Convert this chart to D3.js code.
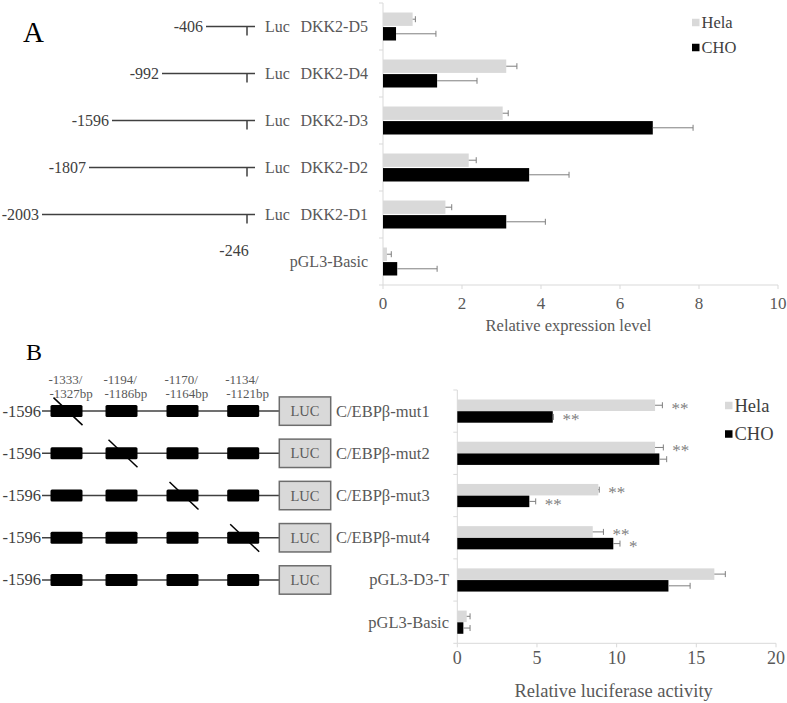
<!DOCTYPE html>
<html>
<head>
<meta charset="utf-8">
<script src="https://cdn.jsdelivr.net/npm/d3@7"></script>
<style>
  body { margin: 0; background: #fff; }
  svg text { font-family: "Liberation Serif", "Times New Roman", serif; }
</style>
</head>
<body>
<div id="chart"></div>
<script>
// panel A data (top to bottom)
var aCategories = ["DKK2-D5", "DKK2-D4", "DKK2-D3", "DKK2-D2", "DKK2-D1", "pGL3-Basic"];
var aStarts = [-406, -992, -1596, -1807, -2003, null];
var aHela = [0.75, 3.12, 3.03, 2.17, 1.58, 0.10];
var aHelaErr = [0.07, 0.27, 0.14, 0.19, 0.16, 0.11];
var aCHO = [0.33, 1.37, 6.83, 3.70, 3.12, 0.36];
var aCHOErr = [1.01, 1.01, 1.02, 1.01, 0.99, 1.01];
var aTicks = [0, 2, 4, 6, 8, 10];

// panel B data (top to bottom)
var bCategories = ["C/EBPβ-mut1", "C/EBPβ-mut2", "C/EBPβ-mut3", "C/EBPβ-mut4", "pGL3-D3-T", "pGL3-Basic"];
var bHela = [12.41, 12.41, 8.85, 8.50, 16.13, 0.59];
var bHelaErr = [0.46, 0.52, 0.06, 0.67, 0.69, 0.21];
var bCHO = [5.99, 12.68, 4.52, 9.79, 13.25, 0.38];
var bCHOErr = [0.04, 0.46, 0.40, 0.42, 1.36, 0.42];
var bHelaSig = ["**", "**", "**", "**", "", ""];
var bCHOSig = ["**", "", "**", "*", "", ""];
var bTicks = [0, 5, 10, 15, 20];
var bSiteTop = ["-1333/", "-1194/", "-1170/", "-1134/"];
var bSiteBottom = ["-1327bp", "-1186bp", "-1164bp", "-1121bp"];
var bMutated = [0, 1, 2, 3, null, null]; // which site is knocked out per row
var bHasConstruct = [true, true, true, true, true, false];

var series = ["Hela", "CHO"];
var colors = {Hela: "#d9d9d9", CHO: "#000000"};
var axisColor = "#d9d9d9";
var textColor = "#595959";
var darkText = "#404040";
var errColor = "#7f7f7f";

var svg = d3.select("#chart").append("svg")
  .attr("width", 787).attr("height", 703);
svg.append("rect").attr("width", 787).attr("height", 703).attr("fill", "#fff");

// generic horizontal grouped bar chart with error bars
function barChart(opts) {
  var g = svg.append("g");
  var x = d3.scaleLinear().domain(opts.domain).range([opts.left, opts.right]);
  var y = d3.scaleBand().domain(opts.categories).range([opts.top, opts.bottom]);
  var sub = d3.scaleBand().domain(series).range(opts.barRange).paddingInner(opts.barGap);

  // axes
  g.append("line").attr("x1", x(0)).attr("x2", x(0)).attr("y1", opts.top).attr("y2", opts.bottom)
    .attr("stroke", axisColor);
  g.append("line").attr("x1", x(0)).attr("x2", opts.right).attr("y1", opts.bottom).attr("y2", opts.bottom)
    .attr("stroke", axisColor);
  var bounds = opts.categories.map(function(c) { return y(c); }).concat([opts.bottom]);
  g.selectAll(".ytick").data(bounds).enter().append("line")
    .attr("x1", x(0) - 4).attr("x2", x(0))
    .attr("y1", function(d) { return d; }).attr("y2", function(d) { return d; })
    .attr("stroke", axisColor);
  g.selectAll(".xtick").data(opts.ticks).enter().append("line")
    .attr("x1", function(d) { return x(d); }).attr("x2", function(d) { return x(d); })
    .attr("y1", opts.bottom).attr("y2", opts.bottom + 4)
    .attr("stroke", axisColor);
  g.selectAll(".xlab").data(opts.ticks).enter().append("text")
    .attr("x", function(d) { return x(d); })
    .attr("y", opts.bottom + opts.tickOffset)
    .attr("text-anchor", "middle").attr("dominant-baseline", "central")
    .attr("font-size", opts.tickSize).attr("fill", textColor)
    .text(function(d) { return d; });
  g.append("text")
    .attr("x", (x(opts.domain[0]) + x(opts.domain[1])) / 2 + opts.titleShift)
    .attr("y", opts.bottom + opts.titleOffset)
    .attr("text-anchor", "middle").attr("dominant-baseline", "central")
    .attr("font-size", opts.titleSize).attr("fill", textColor)
    .text(opts.title);

  // bars + error bars
  series.forEach(function(s) {
    var vals = opts.values[s], errs = opts.errors[s];
    var rows = opts.categories.map(function(c, i) { return {cat: c, v: vals[i], e: errs[i], i: i}; });
    g.selectAll(".bar-" + s).data(rows).enter().append("rect")
      .attr("x", x(0))
      .attr("y", function(d) { return y(d.cat) + sub(s); })
      .attr("width", function(d) { return x(d.v) - x(0); })
      .attr("height", sub.bandwidth())
      .attr("fill", colors[s]);
    g.selectAll(".err-" + s).data(rows).enter().append("path")
      .attr("d", function(d) {
        var cy = y(d.cat) + sub(s) + sub.bandwidth() / 2;
        var x1 = x(d.v), x2 = x(d.v + d.e);
        return "M" + x1 + "," + cy + "H" + x2 + "M" + x2 + "," + (cy - 3) + "V" + (cy + 3);
      })
      .attr("fill", "none").attr("stroke", errColor).attr("stroke-width", 1);
    if (opts.sig) {
      g.selectAll(".sig-" + s).data(rows).enter().append("text")
        .attr("x", function(d) { return x(d.v + d.e) + 9; })
        .attr("y", function(d) { return y(d.cat) + sub(s) + sub.bandwidth() / 2 + 3; })
        .attr("dominant-baseline", "central")
        .attr("font-size", 17).attr("fill", errColor)
        .text(function(d) { return opts.sig[s][d.i]; });
    }
  });

  // legend
  var leg = g.selectAll(".legend").data(series).enter().append("g")
    .attr("transform", function(d, i) {
      return "translate(" + opts.legendX + "," + (opts.legendY + i * opts.legendStep) + ")";
    });
  leg.append("rect").attr("x", 0).attr("y", -opts.legendBox / 2)
    .attr("width", opts.legendBox).attr("height", opts.legendBox)
    .attr("fill", function(d) { return colors[d]; });
  leg.append("text").attr("x", opts.legendBox + 2).attr("y", 0)
    .attr("dominant-baseline", "central")
    .attr("font-size", opts.legendSize).attr("fill", darkText)
    .text(function(d) { return d; });

  return {x: x, y: y};
}

// ---------- panel A ----------
var A = barChart({
  categories: aCategories, domain: [0, 10], ticks: aTicks,
  left: 383, right: 778, top: 3, bottom: 285,
  barRange: [9.5, 37.5], barGap: 0.08,
  values: {Hela: aHela, CHO: aCHO}, errors: {Hela: aHelaErr, CHO: aCHOErr},
  tickOffset: 18, tickSize: 17, title: "Relative expression level",
  titleOffset: 40, titleSize: 16.5, titleShift: -12,
  legendX: 692, legendY: 22.5, legendStep: 25, legendBox: 7.5, legendSize: 16.5
});

svg.append("text").attr("x", 23).attr("y", 42).attr("font-size", 29).attr("fill", "#000").text("A");

// promoter deletion constructs
var ay = function(c) { return A.y(c) + A.y.bandwidth() / 2; };
var bp = d3.scaleLinear()
  .domain([-2003, -1807, -1596, -992, -406, -246])
  .range([42, 89, 112, 162, 206, 247]);
var lineEnd = 255;
var rowsA = aCategories.map(function(c, i) { return {cat: c, start: aStarts[i]}; });
var construct = rowsA.filter(function(d) { return d.start !== null; });
svg.selectAll(".aline").data(construct).enter().append("path")
  .attr("d", function(d) {
    var cy = ay(d.cat);
    return "M" + bp(d.start) + "," + cy + "H" + lineEnd +
      "M" + bp(-246) + "," + cy + "V" + (cy + 9);
  })
  .attr("stroke", darkText).attr("stroke-width", 1.5).attr("fill", "none");
svg.selectAll(".astart").data(construct).enter().append("text")
  .attr("x", function(d) { return bp(d.start) - 3; })
  .attr("y", function(d) { return ay(d.cat); })
  .attr("text-anchor", "end").attr("dominant-baseline", "central")
  .attr("font-size", 16).attr("fill", darkText)
  .text(function(d) { return d.start; });
svg.selectAll(".aluc").data(construct).enter().append("text")
  .attr("x", 265).attr("y", function(d) { return ay(d.cat); })
  .attr("dominant-baseline", "central")
  .attr("font-size", 16).attr("fill", textColor).text("Luc");
svg.selectAll(".acat").data(rowsA).enter().append("text")
  .attr("x", 368).attr("y", function(d) { return ay(d.cat); })
  .attr("text-anchor", "end").attr("dominant-baseline", "central")
  .attr("font-size", 16).attr("fill", textColor)
  .text(function(d) { return d.cat; });
svg.append("text").attr("x", bp(-246) - 13).attr("y", ay(aCategories[5]) - 11)
  .attr("text-anchor", "middle").attr("dominant-baseline", "central")
  .attr("font-size", 16).attr("fill", darkText).text(-246);

// ---------- panel B ----------
var B = barChart({
  categories: bCategories, domain: [0, 20], ticks: bTicks,
  left: 457.3, right: 776, top: 390, bottom: 643.3,
  barRange: [9.5, 32.7], barGap: 0.02,
  values: {Hela: bHela, CHO: bCHO}, errors: {Hela: bHelaErr, CHO: bCHOErr},
  sig: {Hela: bHelaSig, CHO: bCHOSig},
  tickOffset: 15, tickSize: 18, title: "Relative luciferase activity",
  titleOffset: 48, titleSize: 18.5, titleShift: -3,
  legendX: 725, legendY: 405.5, legendStep: 28.5, legendBox: 7.5, legendSize: 18.5
});

svg.append("text").attr("x", 26).attr("y", 360).attr("font-size", 24).attr("fill", "#000").text("B");

var by = function(c) { return B.y(c) + B.y.bandwidth() / 2; };
var site = d3.scaleOrdinal().domain(bSiteTop).range([66.5, 121.5, 182.5, 243.2]);
var boxW = 32, boxH = 12;
var rowsB = bCategories.map(function(c, i) { return {cat: c, mut: bMutated[i], i: i}; });
var rowsC = rowsB.filter(function(d) { return bHasConstruct[d.i]; });

// site labels above first row
svg.selectAll(".stop").data(bSiteTop).enter().append("text")
  .attr("x", function(d) { return site(d) - boxW / 2 - 2; }).attr("y", 379)
  .attr("dominant-baseline", "central").attr("font-size", 13).attr("fill", textColor)
  .text(function(d) { return d; });
svg.selectAll(".sbot").data(bSiteBottom).enter().append("text")
  .attr("x", function(d, i) { return site(bSiteTop[i]) - boxW / 2 - 1; }).attr("y", 393.5)
  .attr("dominant-baseline", "central").attr("font-size", 13).attr("fill", textColor)
  .text(function(d) { return d; });

var row = svg.selectAll(".brow").data(rowsC).enter().append("g")
  .attr("transform", function(d) { return "translate(0," + by(d.cat) + ")"; });
row.append("line").attr("x1", 42).attr("x2", 279.3).attr("y1", 0).attr("y2", 0)
  .attr("stroke", darkText).attr("stroke-width", 1.5);
row.append("text").attr("x", 41).attr("y", 0)
  .attr("text-anchor", "end").attr("dominant-baseline", "central")
  .attr("font-size", 16.5).attr("fill", darkText).text(-1596);
row.selectAll(".site").data(bSiteTop).enter().append("rect")
  .attr("x", function(d) { return site(d) - boxW / 2; }).attr("y", -boxH / 2)
  .attr("width", boxW).attr("height", boxH).attr("rx", 1.5)
  .attr("fill", "#000");
row.filter(function(d) { return d.mut !== null; }).append("line")
  .attr("x1", function(d) { return site(bSiteTop[d.mut]) - boxW / 2 + 3; })
  .attr("x2", function(d) { return site(bSiteTop[d.mut]) + boxW / 2; })
  .attr("y1", -13.5).attr("y2", 14)
  .attr("stroke", "#000").attr("stroke-width", 1.5);
row.append("rect").attr("x", 279.3).attr("y", -14.2).attr("width", 51.4).attr("height", 28.4)
  .attr("fill", "#d9d9d9").attr("stroke", "#6d6d6d").attr("stroke-width", 1.5);
row.append("text").attr("x", 305).attr("y", 0)
  .attr("text-anchor", "middle").attr("dominant-baseline", "central")
  .attr("font-size", 14.5).attr("fill", textColor).text("LUC");

// category labels for B
svg.selectAll(".bcat").data(rowsB).enter().append("text")
  .attr("x", function(d) { return d.mut !== null ? 336 : 449; })
  .attr("y", function(d) { return by(d.cat); })
  .attr("text-anchor", function(d) { return d.mut !== null ? "start" : "end"; })
  .attr("dominant-baseline", "central")
  .attr("font-size", 16.5).attr("fill", textColor)
  .text(function(d) { return d.cat; });
</script>
</body>
</html>
